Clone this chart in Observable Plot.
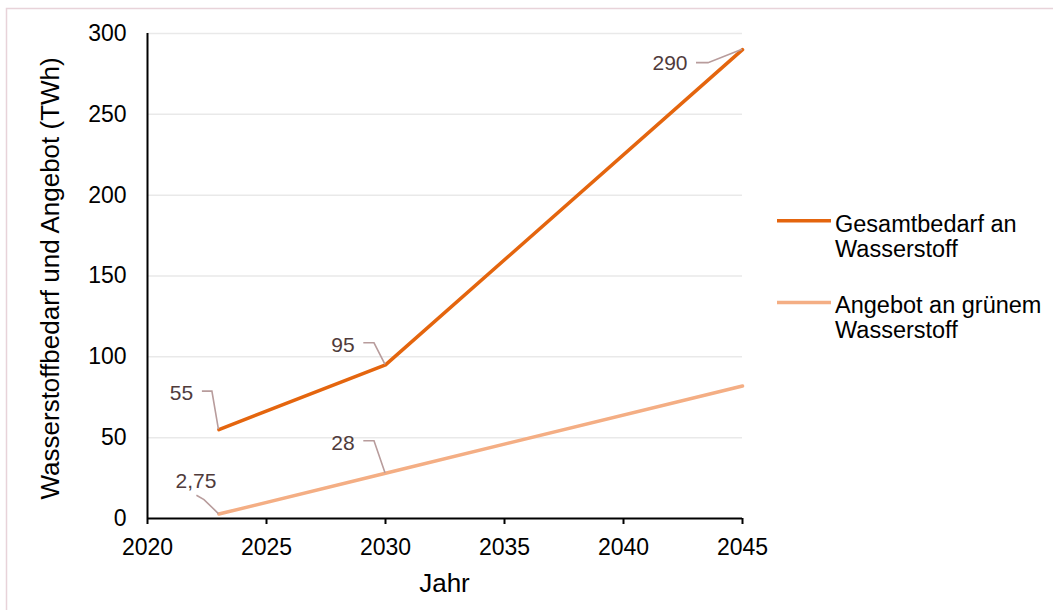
<!DOCTYPE html>
<html><head><meta charset="utf-8">
<script src="https://cdn.jsdelivr.net/npm/d3@7"></script>
<script src="https://cdn.jsdelivr.net/npm/@observablehq/plot@0.6"></script>
<style>
html,body{margin:0;padding:0;background:#fff;}
#wrap{position:relative;width:1053px;height:610px;overflow:hidden;}
svg{font-family:"Liberation Sans",Arial,sans-serif;}
</style></head>
<body><div id="wrap"></div>
<script>
const years = [2023, 2030, 2045];
const gesamtbedarf = [55, 95, 290];
const angebot = [2.75, 28, 82];
const seriesNames = ["Gesamtbedarf an Wasserstoff", "Angebot an grünem Wasserstoff"];
const seriesColors = ["#e4650e", "#f4ae84"];
const xTicks = [2020, 2025, 2030, 2035, 2040, 2045];
const yTicks = [0, 50, 100, 150, 200, 250, 300];
const labelGesamt = ["55", "95", "290"];
const labelAngebot = ["2,75", "28", null];

const rows = [];
years.forEach((yr, i) => rows.push({year: yr, value: gesamtbedarf[i], series: seriesNames[0], label: labelGesamt[i]}));
years.forEach((yr, i) => rows.push({year: yr, value: angebot[i], series: seriesNames[1], label: labelAngebot[i]}));

// label placement (pixel offsets from the point) and leader polylines
const place = {
  "55":   {dx: -37,   dy: -37, lead: [[-16.5,-38],[-6.5,-38],[0,0]]},
  "95":   {dx: -42,   dy: -20, lead: [[-21.7,-21.6],[-11,-21.6],[0,0]]},
  "290":  {dx: -72,   dy: 13,  lead: [[-46,13.5],[-34,13.5],[0,0]]},
  "2,75": {dx: -22.4, dy: -33, lead: [[-22,-18.3],[-14.4,-14],[0,0]]},
  "28":   {dx: -42,   dy: -30, lead: [[-21.7,-32],[-11,-32],[0,0]]}
};
const labeled = rows.filter(d => d.label);

const W = 1053, H = 610;
const chart = Plot.plot({
  width: W, height: H,
  marginLeft: 147, marginRight: 311, marginTop: 33, marginBottom: 92,
  style: {fontFamily: '"Liberation Sans", Arial, sans-serif', fontSize: "23px", color: "#000", background: "transparent"},
  x: {domain: [2020, 2045], label: null},
  y: {domain: [0, 300], label: null},
  color: {domain: seriesNames, range: seriesColors},
  marks: [
    Plot.gridY(yTicks.filter(t => t > 0), {stroke: "#e9e9e9", strokeOpacity: 1, strokeWidth: 1.5}),
    Plot.axisX(xTicks, {tickSize: 6, tickPadding: 14, tickFormat: d => String(d), fontSize: 23, stroke: "#000", strokeWidth: 2, label: null}),
    Plot.axisY(yTicks, {tickSize: 0, tickPadding: 21, fontSize: 23, label: null}),
    Plot.ruleX([2020], {stroke: "#000", strokeWidth: 2}),
    Plot.ruleY([0], {stroke: "#000", strokeWidth: 2}),
    Plot.line(rows, {x: "year", y: "value", z: "series", stroke: "series", strokeWidth: 3.5})
  ]
});

const sx = chart.scale("x"), sy = chart.scale("y");
const svg = d3.select(chart);

// data labels with leader lines, positioned through the plot's scales
const ann = svg.append("g");
labeled.forEach(d => {
  const px = sx.apply(d.year), py = sy.apply(d.value);
  const p = place[d.label];
  ann.append("path")
    .attr("d", d3.line()(p.lead.map(([a, b]) => [px + a, py + b])))
    .attr("fill", "none").attr("stroke", "#b89c9c").attr("stroke-width", 1.6);
  ann.append("text").attr("x", px + p.dx).attr("y", py + p.dy + 7.5)
    .attr("text-anchor", "middle")
    .attr("fill", "#4f3b3b").attr("font-size", 21).text(d.label);
});

// axis titles
svg.append("text").attr("x", sx.apply(2032.5)).attr("y", 592)
  .attr("text-anchor", "middle").attr("font-size", 26).text("Jahr");
svg.append("text").attr("transform", `translate(58.6,278.4) rotate(-90)`)
  .attr("text-anchor", "middle").attr("font-size", 26)
  .text("Wasserstoffbedarf und Angebot (TWh)");

// legend
const leg = svg.append("g");
const legendRows = [
  {lines: ["Gesamtbedarf an", "Wasserstoff"], y: 220.7, base: 231.5},
  {lines: ["Angebot an grünem", "Wasserstoff"], y: 302.5, base: 313.3}
];
legendRows.forEach((r, i) => {
  leg.append("line").attr("x1", 777).attr("x2", 831).attr("y1", r.y).attr("y2", r.y)
    .attr("stroke", seriesColors[i]).attr("stroke-width", 3.5);
  r.lines.forEach((t, j) => {
    leg.append("text").attr("x", 835).attr("y", r.base + j * 25)
      .attr("text-anchor", "start").attr("font-size", 23.5).text(t);
  });
});

// outer frame lines (left and top)
svg.insert("path", ":first-child").attr("d", "M6.5,610 V8.5 H1053").attr("fill", "none")
  .attr("stroke", "#e8d3d9").attr("stroke-width", 1.5);

document.getElementById("wrap").appendChild(chart);
</script>
</body></html>
